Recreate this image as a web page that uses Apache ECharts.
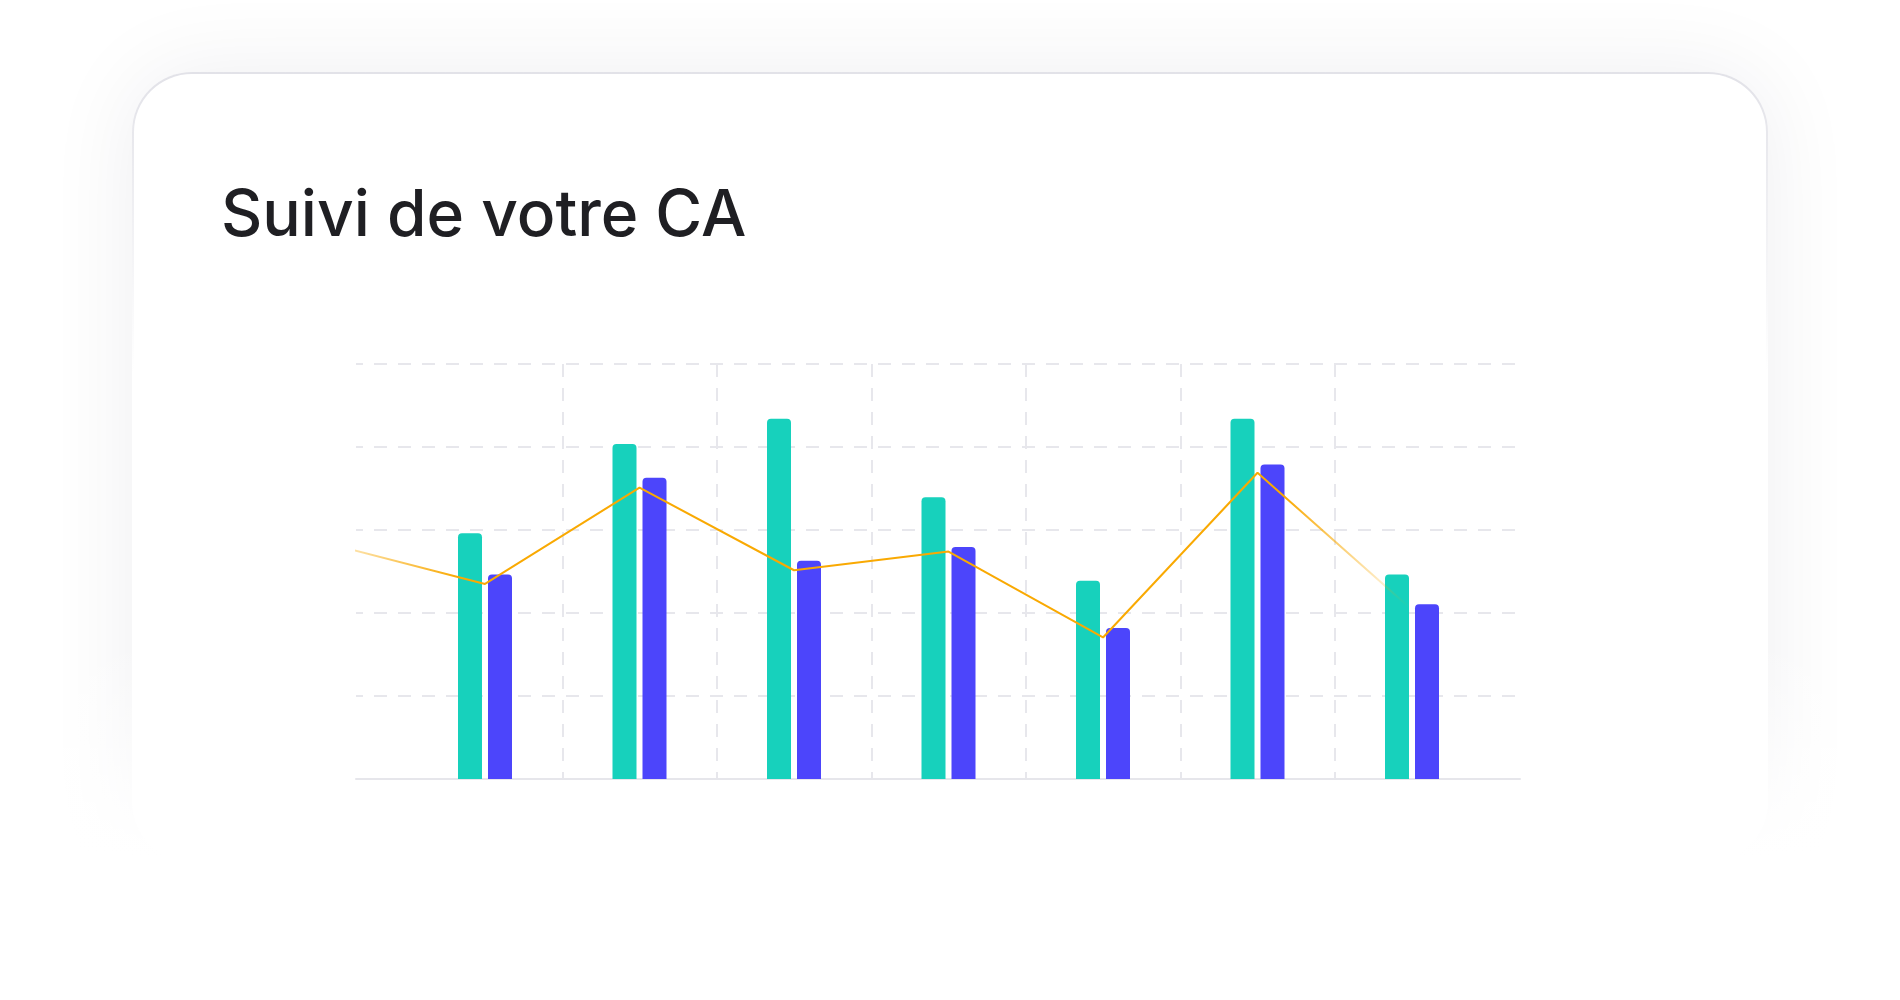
<!DOCTYPE html>
<html lang="fr">
<head>
<meta charset="utf-8">
<title>Suivi de votre CA</title>
<script src="https://cdn.jsdelivr.net/npm/echarts@6/dist/echarts.min.js"></script>
<style>
  html, body { margin: 0; padding: 0; background: #ffffff; width: 1900px; height: 1000px; overflow: hidden; }
  /* card chrome: soft shadow, top border that fades downwards */
  .card {
    position: absolute; left: 132px; top: 72px; width: 1636px; height: 790px;
    border-radius: 60px;
    background: linear-gradient(180deg, #e2e2e8 0%, rgba(226,226,232,0) 38%);
    box-shadow: 0 0 90px rgba(30, 30, 60, 0.07);
  }
  .card::after { content: ''; position: absolute; inset: 2px; border-radius: 58px; background: #ffffff; }
  .fade {
    position: absolute; left: 0; top: 640px; width: 1900px; height: 360px;
    background: linear-gradient(180deg, rgba(255,255,255,0) 0%, #ffffff 60%);
  }
  #chart { position: absolute; left: 0; top: 0; width: 1900px; height: 1000px; }
</style>
</head>
<body>
<div class="card"></div>
<div class="fade"></div>
<div id="chart"></div>
<script>
// Monthly revenue: achieved vs target, plus trend line (trend starts one month earlier)
const months = ['Jan', 'Fév', 'Mar', 'Avr', 'Mai', 'Juin', 'Juil'];
const caRealise = [59.2, 80.7, 86.8, 67.9, 47.8, 86.8, 49.3];
const caObjectif = [49.3, 72.6, 52.6, 55.9, 36.4, 75.8, 42.1];
const tendanceMois = ['Déc', 'Jan', 'Fév', 'Mar', 'Avr', 'Mai', 'Juin', 'Juil'];
const tendance = [56.6, 47.0, 70.2, 50.3, 54.8, 34.1, 73.8, 40.8];
const yMin = 0, yMax = 100, yStep = 20;

const GREEN = '#17D1BC';
const BLUE = '#4C45FB';
const ORANGE = '#F9A902';
const GRID_LINE = '#E7E7EC';

// trend points placed on a numeric month index so the line may begin before January
const tendanceData = tendance.map((v, i) => [i - 1, v]);

const chart = echarts.init(document.getElementById('chart'), null, { renderer: 'canvas' });

const dash = { type: [13, 11], color: GRID_LINE, width: 2 };

chart.setOption({
  animation: false,
  title: {
    text: 'Suivi de votre CA',
    left: 216,
    top: 180,
    textStyle: { fontFamily: 'Inter', fontSize: 64, fontWeight: 500, color: '#1f1f23' }
  },
  grid: [
    { left: 356, right: 380, top: 364, bottom: 221, outerBoundsMode: 'none' },
    { left: 407.75, right: 410.75, top: 364, bottom: 221, outerBoundsMode: 'none' }
  ],
  xAxis: [
    {
      type: 'value', gridIndex: 0, min: -0.835, max: 6.699,
      axisLine: { show: true, lineStyle: { color: '#E6E6EB', width: 2 } },
      axisTick: { show: false }, axisLabel: { show: false }, splitLine: { show: false }
    },
    {
      type: 'category', gridIndex: 1, data: months,
      axisLine: { show: false }, axisTick: { show: false }, axisLabel: { show: false },
      splitLine: { show: true, interval: 0, showMinLine: false, showMaxLine: false, lineStyle: dash }
    }
  ],
  yAxis: [
    {
      type: 'value', gridIndex: 0, min: yMin, max: yMax, interval: yStep,
      axisLine: { show: false }, axisTick: { show: false }, axisLabel: { show: false },
      splitLine: { show: true, showMinLine: false, lineStyle: Object.assign({ dashOffset: 6 }, dash) }
    },
    {
      type: 'value', gridIndex: 1, min: yMin, max: yMax, interval: yStep,
      axisLine: { show: false }, axisTick: { show: false }, axisLabel: { show: false },
      splitLine: { show: false }
    }
  ],
  series: [
    {
      name: 'CA réalisé', type: 'bar', xAxisIndex: 1, yAxisIndex: 1,
      data: caRealise, barWidth: 24, barGap: '25%',
      itemStyle: { color: GREEN, borderRadius: [4, 4, 0, 0] }
    },
    {
      name: 'Objectif', type: 'bar', xAxisIndex: 1, yAxisIndex: 1,
      data: caObjectif, barWidth: 24, barGap: '25%',
      itemStyle: { color: BLUE, borderRadius: [4, 4, 0, 0] }
    },
    {
      name: 'Tendance', type: 'line', xAxisIndex: 0, yAxisIndex: 0, z: 5,
      data: tendanceData, symbol: 'none', clip: true,
      lineStyle: {
        width: 2,
        color: new echarts.graphic.LinearGradient(0, 0, 1, 0, [
          { offset: 0, color: 'rgba(249,169,2,0.2)' },
          { offset: 0.024, color: 'rgba(249,169,2,0.35)' },
          { offset: 0.12, color: ORANGE },
          { offset: 0.88, color: ORANGE },
          { offset: 0.995, color: 'rgba(249,169,2,0)' }
        ])
      }
    }
  ]
});
</script>
</body>
</html>
